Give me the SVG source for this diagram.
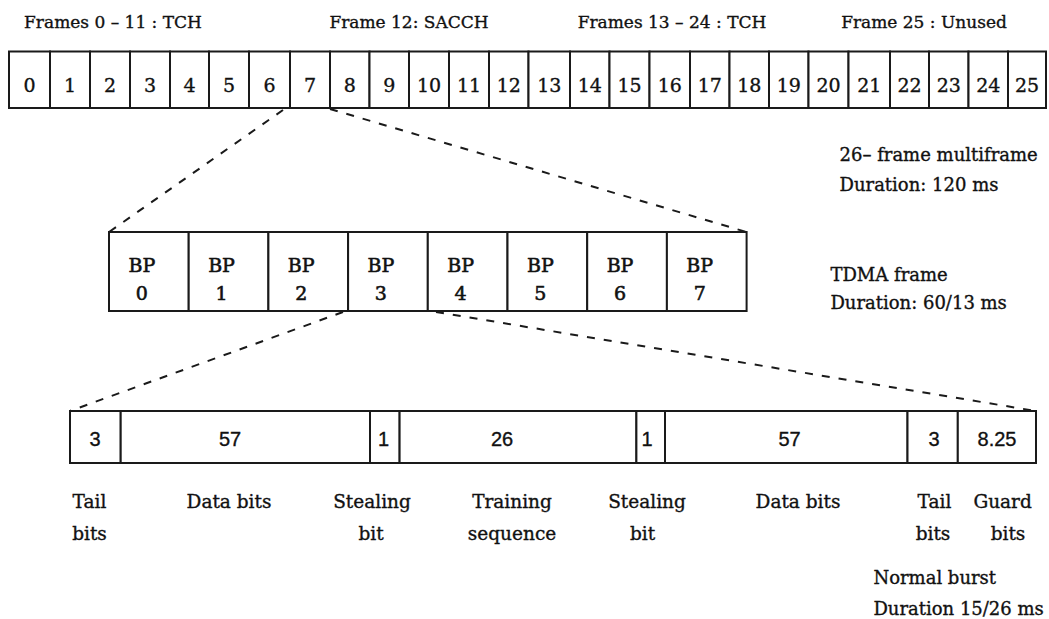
<svg xmlns="http://www.w3.org/2000/svg" width="1049" height="619" viewBox="0 0 1049 619">
<style>
.box{fill:#fff;stroke:#1a1a1a;stroke-width:2}
text{stroke:#111;stroke-width:0.35}
.num{font-family:"DejaVu Serif","Liberation Serif",serif;font-size:19px;fill:#111;text-anchor:middle}
.bp{stroke-width:0.6}
.bn{font-family:"Liberation Sans","DejaVu Sans",sans-serif;font-size:20px;fill:#111;text-anchor:middle}
.hd{font-family:"DejaVu Serif","Liberation Serif",serif;font-size:17px;fill:#111;text-anchor:middle}
.lb{font-family:"DejaVu Serif","Liberation Serif",serif;font-size:18px;fill:#111}
.bl{font-family:"DejaVu Serif","Liberation Serif",serif;font-size:18.5px;fill:#111;text-anchor:middle}
.dash{fill:none;stroke:#1a1a1a;stroke-width:2;stroke-dasharray:8 9}
</style>
<rect width="1049" height="619" fill="#fff"/>
<g id="headers">
<text class="hd" x="113" y="28">Frames 0 – 11 : TCH</text>
<text class="hd" x="409" y="28">Frame 12: SACCH</text>
<text class="hd" x="672" y="28">Frames 13 – 24 : TCH</text>
<text class="hd" x="924" y="28">Frame 25 : Unused</text>
</g>
<g id="multiframe">
<g id="f0"><rect class="box" x="9" y="51.5" width="41" height="56.5"/><text class="num" x="29.5" y="92">0</text></g>
<g id="f1"><rect class="box" x="50" y="51.5" width="40" height="56.5"/><text class="num" x="70" y="92">1</text></g>
<g id="f2"><rect class="box" x="90" y="51.5" width="40" height="56.5"/><text class="num" x="110" y="92">2</text></g>
<g id="f3"><rect class="box" x="130" y="51.5" width="40" height="56.5"/><text class="num" x="150" y="92">3</text></g>
<g id="f4"><rect class="box" x="170" y="51.5" width="39" height="56.5"/><text class="num" x="189.5" y="92">4</text></g>
<g id="f5"><rect class="box" x="209" y="51.5" width="40" height="56.5"/><text class="num" x="229" y="92">5</text></g>
<g id="f6"><rect class="box" x="249" y="51.5" width="41" height="56.5"/><text class="num" x="269.5" y="92">6</text></g>
<g id="f7"><rect class="box" x="290" y="51.5" width="40" height="56.5"/><text class="num" x="310" y="92">7</text></g>
<g id="f8"><rect class="box" x="330" y="51.5" width="39.5" height="56.5"/><text class="num" x="349.75" y="92">8</text></g>
<g id="f9"><rect class="box" x="369.5" y="51.5" width="39.5" height="56.5"/><text class="num" x="389.25" y="92">9</text></g>
<g id="f10"><rect class="box" x="409" y="51.5" width="40" height="56.5"/><text class="num" x="429" y="92">10</text></g>
<g id="f11"><rect class="box" x="449" y="51.5" width="40" height="56.5"/><text class="num" x="469" y="92">11</text></g>
<g id="f12"><rect class="box" x="489" y="51.5" width="39.5" height="56.5"/><text class="num" x="508.75" y="92">12</text></g>
<g id="f13"><rect class="box" x="528.5" y="51.5" width="41.5" height="56.5"/><text class="num" x="549.25" y="92">13</text></g>
<g id="f14"><rect class="box" x="570" y="51.5" width="39.5" height="56.5"/><text class="num" x="589.75" y="92">14</text></g>
<g id="f15"><rect class="box" x="609.5" y="51.5" width="40" height="56.5"/><text class="num" x="629.5" y="92">15</text></g>
<g id="f16"><rect class="box" x="649.5" y="51.5" width="40.5" height="56.5"/><text class="num" x="669.75" y="92">16</text></g>
<g id="f17"><rect class="box" x="690" y="51.5" width="39.5" height="56.5"/><text class="num" x="709.75" y="92">17</text></g>
<g id="f18"><rect class="box" x="729.5" y="51.5" width="39.5" height="56.5"/><text class="num" x="749.25" y="92">18</text></g>
<g id="f19"><rect class="box" x="769" y="51.5" width="39.5" height="56.5"/><text class="num" x="788.75" y="92">19</text></g>
<g id="f20"><rect class="box" x="808.5" y="51.5" width="40" height="56.5"/><text class="num" x="828.5" y="92">20</text></g>
<g id="f21"><rect class="box" x="848.5" y="51.5" width="41.5" height="56.5"/><text class="num" x="869.25" y="92">21</text></g>
<g id="f22"><rect class="box" x="890" y="51.5" width="39" height="56.5"/><text class="num" x="909.5" y="92">22</text></g>
<g id="f23"><rect class="box" x="929" y="51.5" width="39.5" height="56.5"/><text class="num" x="948.75" y="92">23</text></g>
<g id="f24"><rect class="box" x="968.5" y="51.5" width="39.5" height="56.5"/><text class="num" x="988.25" y="92">24</text></g>
<g id="f25"><rect class="box" x="1008" y="51.5" width="38" height="56.5"/><text class="num" x="1027" y="92">25</text></g>
</g>
<g id="multiframe-label">
<text class="lb" x="839.5" y="161">26– frame multiframe</text>
<text class="lb" x="839.5" y="191">Duration: 120 ms</text>
</g>
<g id="tdma">
<g id="bp0"><rect class="box" x="109" y="232" width="79.7" height="79"/><text class="num bp" x="141.8" y="272">BP</text><text class="num bp" x="141.8" y="300">0</text></g>
<g id="bp1"><rect class="box" x="188.7" y="232" width="79.7" height="79"/><text class="num bp" x="221.5" y="272">BP</text><text class="num bp" x="221.5" y="300">1</text></g>
<g id="bp2"><rect class="box" x="268.4" y="232" width="79.7" height="79"/><text class="num bp" x="301.2" y="272">BP</text><text class="num bp" x="301.2" y="300">2</text></g>
<g id="bp3"><rect class="box" x="348.1" y="232" width="79.7" height="79"/><text class="num bp" x="380.9" y="272">BP</text><text class="num bp" x="380.9" y="300">3</text></g>
<g id="bp4"><rect class="box" x="427.8" y="232" width="79.7" height="79"/><text class="num bp" x="460.6" y="272">BP</text><text class="num bp" x="460.6" y="300">4</text></g>
<g id="bp5"><rect class="box" x="507.5" y="232" width="79.7" height="79"/><text class="num bp" x="540.3" y="272">BP</text><text class="num bp" x="540.3" y="300">5</text></g>
<g id="bp6"><rect class="box" x="587.2" y="232" width="79.7" height="79"/><text class="num bp" x="620" y="272">BP</text><text class="num bp" x="620" y="300">6</text></g>
<g id="bp7"><rect class="box" x="666.9" y="232" width="79.7" height="79"/><text class="num bp" x="699.7" y="272">BP</text><text class="num bp" x="699.7" y="300">7</text></g>
</g>
<g id="tdma-label">
<text class="lb" x="830.4" y="281">TDMA frame</text>
<text class="lb" x="830.4" y="309">Duration: 60/13 ms</text>
</g>
<g id="burst">
<g id="b-tail1"><rect class="box" x="70" y="411" width="50.7" height="52"/><text class="bn" x="95" y="446">3</text></g>
<g id="b-data1"><rect class="box" x="120.7" y="411" width="249.3" height="52"/><text class="bn" x="230" y="446">57</text></g>
<g id="b-steal1"><rect class="box" x="370" y="411" width="29.6" height="52"/><text class="bn" x="383.5" y="446">1</text></g>
<g id="b-train"><rect class="box" x="399.6" y="411" width="236.8" height="52"/><text class="bn" x="502" y="446">26</text></g>
<g id="b-steal2"><rect class="box" x="636.4" y="411" width="28.6" height="52"/><text class="bn" x="647" y="446">1</text></g>
<g id="b-data2"><rect class="box" x="665" y="411" width="242.5" height="52"/><text class="bn" x="789.5" y="446">57</text></g>
<g id="b-tail2"><rect class="box" x="907.5" y="411" width="50.3" height="52"/><text class="bn" x="934" y="446">3</text></g>
<g id="b-guard"><rect class="box" x="957.8" y="411" width="78.2" height="52"/><text class="bn" x="997" y="446">8.25</text></g>
</g>
<g id="burst-labels">
<text class="bl" x="89.5" y="508">Tail</text><text class="bl" x="89.5" y="540">bits</text>
<text class="bl" x="229" y="508">Data bits</text>
<text class="bl" x="372" y="508">Stealing</text><text class="bl" x="371" y="540">bit</text>
<text class="bl" x="512" y="508">Training</text><text class="bl" x="512" y="540">sequence</text>
<text class="bl" x="647" y="508">Stealing</text><text class="bl" x="642.6" y="540">bit</text>
<text class="bl" x="798" y="508">Data bits</text>
<text class="bl" x="934.5" y="508">Tail</text><text class="bl" x="933" y="540">bits</text>
<text class="bl" x="1002.6" y="508">Guard</text><text class="bl" x="1008" y="540">bits</text>
<text class="lb" x="873.4" y="583.5">Normal burst</text>
<text class="lb" x="873.4" y="615">Duration 15/26 ms</text>
</g>
<g id="connectors">
<line class="dash" x1="283" y1="110" x2="109" y2="232"/>
<line class="dash" x1="330" y1="109" x2="746.6" y2="232"/>
<line class="dash" x1="343" y1="312" x2="70" y2="411"/>
<line class="dash" x1="436" y1="312" x2="1036" y2="411"/>
</g>
</svg>
